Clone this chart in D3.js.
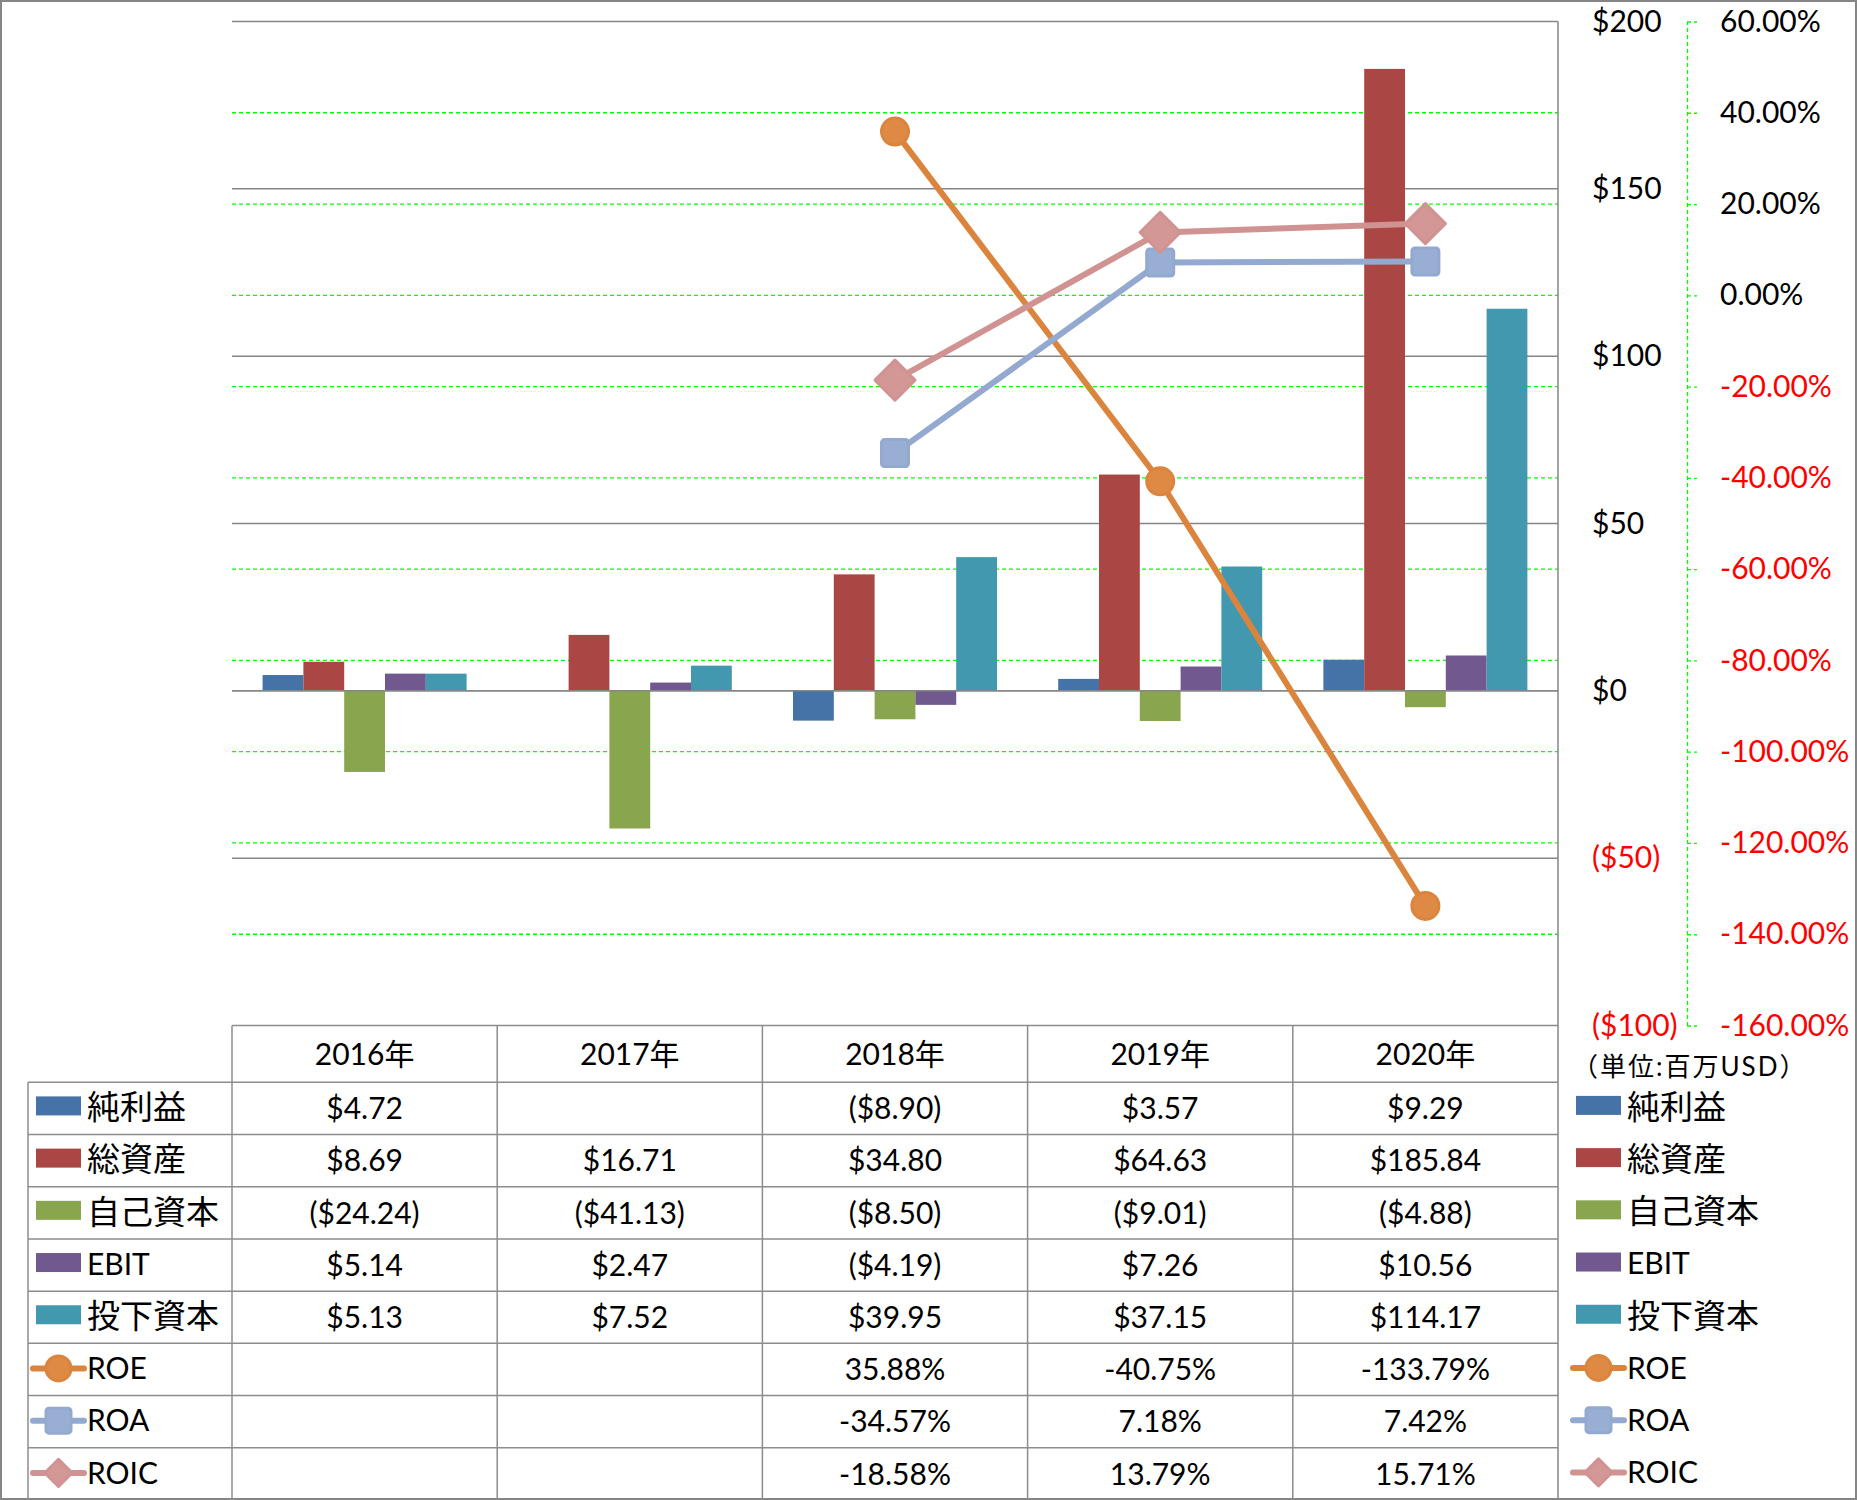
<!DOCTYPE html>
<html>
<head>
<meta charset="utf-8">
<script src="https://cdn.jsdelivr.net/npm/d3@7"></script>
<style>
  html, body { margin: 0; padding: 0; background: #fff; }
  svg { display: block; }
  text { font-family: Lato, "Noto Sans CJK JP", sans-serif; }
</style>
</head>
<body>
<svg id="chart" width="1857" height="1500"></svg>
<script>
// ---------------- data ----------------
const categories = ["2016年", "2017年", "2018年", "2019年", "2020年"];
const barSeries = ["純利益", "総資産", "自己資本", "EBIT", "投下資本"];
const netIncome   = [4.72, null, -8.90, 3.57, 9.29];
const totalAssets = [8.69, 16.71, 34.80, 64.63, 185.84];
const equity      = [-24.24, -41.13, -8.50, -9.01, -4.88];
const ebit        = [5.14, 2.47, -4.19, 7.26, 10.56];
const investedCap = [5.13, 7.52, 39.95, 37.15, 114.17];
const lineSeries = ["ROE", "ROA", "ROIC"];
const roe  = [null, null, 35.88, -40.75, -133.79];
const roa  = [null, null, -34.57, 7.18, 7.42];
const roic = [null, null, -18.58, 13.79, 15.71];
const usdTicks = [-100, -50, 0, 50, 100, 150, 200];
const pctTicks = [-160, -140, -120, -100, -80, -60, -40, -20, 0, 20, 40, 60];
const unitLabel = "（単位:百万USD）";

// ---------------- styles ----------------
const barValues = [netIncome, totalAssets, equity, ebit, investedCap];
const lineValues = [roe, roa, roic];
const barColors = ["#4572A7", "#AA4643", "#89A54E", "#71588F", "#4198AF"];
const lineColors = ["#DB843D", "#93A9CF", "#D19392"];
const markerFill = ["#DE8A45", "#98AED3", "#D39896"];
const markerShapes = ["circle", "square", "diamond"];
const gridGray = "#868686";
const green = "#00FF00";

const svg = d3.select("#chart");

// layout
const plotLeft = 232, plotRight = 1558, plotTop = 21.5, plotBottom = 1025.5;
const tableLeft = 28, tableBottom = 1500, headerBottom = 1082.3;

const x = d3.scaleBand().domain(categories).range([plotLeft, plotRight]).padding(0);
const x1 = d3.scaleBand().domain(barSeries).range([0, x.bandwidth()]).paddingInner(0).paddingOuter(0.75);
const y = d3.scaleLinear().domain([-100, 200]).range([plotBottom, plotTop]);
const y2 = d3.scaleLinear().domain([-160, 60]).range([plotBottom, plotTop]);

// frame
svg.append("rect").attr("x", 1).attr("y", 1).attr("width", 1855).attr("height", 1498)
  .attr("fill", "#fff").attr("stroke", gridGray).attr("stroke-width", 2);

// gridlines (secondary, green dashed)
svg.append("g").selectAll("line").data(pctTicks.filter(d => d !== 60 && d !== -160)).join("line")
  .attr("x1", plotLeft).attr("x2", plotRight)
  .attr("y1", d => y2(d)).attr("y2", d => y2(d))
  .attr("stroke", green).attr("stroke-width", 1.3).attr("stroke-dasharray", "4,3");
// gridlines (primary, gray)
svg.append("g").selectAll("line").data(usdTicks.filter(d => d !== -100)).join("line")
  .attr("x1", plotLeft).attr("x2", plotRight)
  .attr("y1", d => y(d)).attr("y2", d => y(d))
  .attr("stroke", gridGray).attr("stroke-width", 1.5);

// bars
const barData = [];
barSeries.forEach((s, si) => categories.forEach((c, ci) => {
  const v = barValues[si][ci];
  if (v !== null) barData.push({ s, si, c, v });
}));
svg.append("g").selectAll("rect").data(barData).join("rect")
  .attr("x", d => x(d.c) + x1(d.s))
  .attr("width", x1.bandwidth())
  .attr("y", d => Math.min(y(d.v), y(0)))
  .attr("height", d => Math.abs(y(d.v) - y(0)))
  .attr("fill", d => barColors[d.si]);

// zero line on top of bars
svg.append("line").attr("x1", plotLeft).attr("x2", plotRight)
  .attr("y1", y(0)).attr("y2", y(0)).attr("stroke", gridGray).attr("stroke-width", 1.5);

// marker drawing helper
function drawMarker(g, shape, cx, cy, i, size, diamondHalf) {
  const s = size;
  if (shape === "circle") {
    g.append("circle").attr("cx", cx).attr("cy", cy).attr("r", s / 2 - 1.5)
      .attr("fill", markerFill[i]).attr("stroke", lineColors[i]).attr("stroke-width", 3);
  } else if (shape === "square") {
    const h = s / 2 - 1.5;
    g.append("rect").attr("x", cx - h).attr("y", cy - h).attr("width", 2 * h).attr("height", 2 * h)
      .attr("fill", markerFill[i]).attr("stroke", lineColors[i]).attr("stroke-width", 3)
      .attr("stroke-linejoin", "round").attr("rx", 3);
  } else {
    const h = diamondHalf - 1.5;
    g.append("path").attr("d", `M${cx},${cy - h}L${cx + h},${cy}L${cx},${cy + h}L${cx - h},${cy}Z`)
      .attr("fill", markerFill[i]).attr("stroke", lineColors[i]).attr("stroke-width", 3)
      .attr("stroke-linejoin", "round");
  }
}

// lines
const lineGen = d3.line()
  .defined(d => d.v !== null)
  .x(d => x(d.c) + x.bandwidth() / 2)
  .y(d => y2(d.v));
const linesG = svg.append("g");
lineSeries.forEach((s, i) => {
  const pts = categories.map((c, ci) => ({ c, v: lineValues[i][ci] }));
  linesG.append("path").datum(pts).attr("d", lineGen)
    .attr("fill", "none").attr("stroke", lineColors[i]).attr("stroke-width", 6)
    .attr("stroke-linecap", "round").attr("stroke-linejoin", "round");
  pts.filter(p => p.v !== null).forEach(p => {
    drawMarker(linesG, markerShapes[i], x(p.c) + x.bandwidth() / 2, y2(p.v), i, 30, 21.5);
  });
});

// right plot border
svg.append("line").attr("x1", plotRight).attr("x2", plotRight)
  .attr("y1", plotTop).attr("y2", tableBottom).attr("stroke", gridGray).attr("stroke-width", 1.5);

// primary axis (USD)
const fmtUsd = d => d < 0 ? `($${Math.abs(d)})` : `$${d}`;
const axisY = svg.append("g").attr("transform", `translate(${plotRight},0)`)
  .call(d3.axisRight(y).tickValues(usdTicks).tickSize(0).tickPadding(34).tickFormat(fmtUsd));
axisY.select(".domain").remove();
axisY.selectAll("text").attr("font-size", 30).attr("font-family", "Lato")
  .attr("fill", d => d < 0 ? "#FF0000" : "#000");

// secondary axis (percent)
const axis2X = 1687;
const axisP = svg.append("g").attr("transform", `translate(${axis2X},0)`)
  .call(d3.axisRight(y2).tickValues(pctTicks).tickSize(10).tickSizeOuter(0).tickPadding(23)
    .tickFormat(d => d.toFixed(2) + "%"));
axisP.select(".domain").attr("stroke", green).attr("stroke-width", 1.3).attr("stroke-dasharray", "4,3");
axisP.selectAll(".tick line").attr("stroke", green).attr("stroke-width", 1.3).attr("stroke-dasharray", "4,3");
axisP.selectAll("text").attr("font-size", 30).attr("font-family", "Lato")
  .attr("fill", d => d < 0 ? "#FF0000" : "#000");

// ---------------- data table ----------------
const allSeries = barSeries.concat(lineSeries);
const rows = d3.scaleBand().domain(allSeries).range([headerBottom, tableBottom]);
const tableG = svg.append("g");
const tableStroke = "#8C8C8C";

// header top
tableG.append("line").attr("x1", plotLeft).attr("x2", plotRight)
  .attr("y1", plotBottom).attr("y2", plotBottom).attr("stroke", tableStroke).attr("stroke-width", 1.5);
// row lines
tableG.selectAll("line.row").data(allSeries).join("line").attr("class", "row")
  .attr("x1", tableLeft).attr("x2", plotRight)
  .attr("y1", d => rows(d)).attr("y2", d => rows(d))
  .attr("stroke", tableStroke).attr("stroke-width", 1.5);
// column lines
tableG.selectAll("line.col").data(categories).join("line").attr("class", "col")
  .attr("x1", d => x(d)).attr("x2", d => x(d))
  .attr("y1", plotBottom).attr("y2", tableBottom)
  .attr("stroke", tableStroke).attr("stroke-width", 1.5);
tableG.append("line").attr("x1", tableLeft).attr("x2", tableLeft)
  .attr("y1", headerBottom).attr("y2", tableBottom).attr("stroke", tableStroke).attr("stroke-width", 1.5);

// header text
tableG.selectAll("text.hdr").data(categories).join("text").attr("class", "hdr")
  .attr("x", d => x(d) + x.bandwidth() / 2)
  .attr("y", (plotBottom + headerBottom) / 2).attr("dy", "0.36em")
  .attr("text-anchor", "middle").attr("font-size", 30).text(d => d);

// cell values
const fmtMoney = v => v < 0 ? `($${Math.abs(v).toFixed(2)})` : `$${v.toFixed(2)}`;
const cells = [];
allSeries.forEach((s, si) => categories.forEach((c, ci) => {
  const v = si < 5 ? barValues[si][ci] : lineValues[si - 5][ci];
  if (v !== null) cells.push({ s, c, text: si < 5 ? fmtMoney(v) : v.toFixed(2) + "%" });
}));
tableG.selectAll("text.cell").data(cells).join("text").attr("class", "cell")
  .attr("x", d => x(d.c) + x.bandwidth() / 2)
  .attr("y", d => rows(d.s) + rows.bandwidth() / 2).attr("dy", "0.36em")
  .attr("text-anchor", "middle").attr("font-size", 30).text(d => d.text);

// legend entries (table left and right legend)
function legendEntry(g, s, si, x0, cy) {
  if (si < 5) {
    g.append("rect").attr("x", x0).attr("y", cy - 11).attr("width", 45).attr("height", 19)
      .attr("fill", barColors[si]);
  } else {
    const i = si - 5;
    g.append("line").attr("x1", x0 - 3).attr("x2", x0 + 48).attr("y1", cy).attr("y2", cy)
      .attr("stroke", lineColors[i]).attr("stroke-width", 6).attr("stroke-linecap", "round");
    drawMarker(g, markerShapes[i], x0 + 22.5, cy, i, 28, 15);
  }
  const isCJK = /[^\x00-\x7F]/.test(s);
  g.append("text").attr("x", x0 + 51).attr("y", cy).attr("dy", "0.36em")
    .attr("font-size", isCJK ? 33 : 30)
    .attr("font-family", isCJK ? "Noto Sans CJK JP" : "Lato")
    .text(s);
}
const legL = svg.append("g");
allSeries.forEach((s, si) => legendEntry(legL, s, si, 36, rows(s) + rows.bandwidth() / 2 - 1));
const legR = svg.append("g");
allSeries.forEach((s, si) => legendEntry(legR, s, si, 1576, rows(s) + rows.bandwidth() / 2 - 1.5));

// unit label
svg.append("text").attr("x", 1572).attr("y", 1067).attr("dy", "0.36em")
  .attr("font-size", 26).attr("letter-spacing", 2).attr("font-family", "Noto Sans CJK JP").text(unitLabel);
</script>
</body>
</html>
